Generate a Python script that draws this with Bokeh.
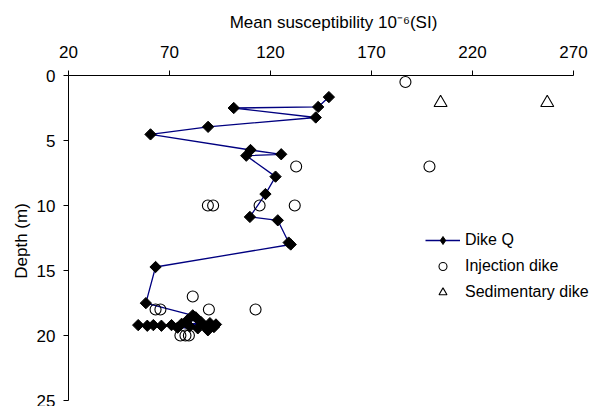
import numpy as np
from bokeh.plotting import figure
from bokeh.models import Range1d, FixedTicker, Legend, LegendItem, ColumnDataSource
from bokeh.embed import file_html
from bokeh.resources import INLINE

# Dike Q (mean susceptibility, depth)
dikeq_x = [148.9, 143.6, 101.8, 142.4, 89.1, 60.6, 110.1, 125.3, 108.0, 122.5,
           117.5, 109.8, 123.6, 129.0, 130.0, 63.1, 58.3,
           81.5, 83.0, 79.0, 85.5, 90.0, 76.0, 93.0, 71.0, 66.0, 62.0, 59.0,
           54.5, 80.0, 88.0, 74.0, 84.0, 92.0, 89.0]
dikeq_y = [1.66, 2.42, 2.50, 3.23, 3.95, 4.53, 5.73, 6.06, 6.17, 7.78,
           9.12, 10.88, 11.14, 12.85, 13.0, 14.73, 17.51,
           18.45, 18.6, 18.8, 18.95, 19.05, 19.1, 19.15, 19.2, 19.25, 19.2, 19.25,
           19.2, 19.3, 19.35, 19.4, 19.45, 19.35, 19.6]

# Injection dike
inj_x = [186.8, 132.7, 198.7, 89.0, 91.6, 114.6, 132.0, 81.5, 63.1, 65.5, 89.5, 112.6, 75.4, 77.9, 79.6]
inj_y = [0.5, 7.0, 7.0, 10.0, 10.0, 10.0, 10.0, 17.0, 18.0, 18.0, 18.0, 18.0, 20.0, 20.0, 20.0]

# Sedimentary dike
sed_x = [204.2, 257.0]
sed_y = [2.1, 2.1]

x_ticks = [20, 70, 120, 170, 220, 270]
y_ticks = [0, 5, 10, 15, 20, 25]

FONT = "Liberation Sans"

# frame: left 68, right 598, top 75, bottom 406 ; 270 at x=573, 25 at y=400
x_end = 20 + 530 / (505 / 250)
y_end = 25 + 6 / (325 / 25)

p = figure(width=598, height=406, output_backend="svg", toolbar_location=None,
           x_range=Range1d(20, x_end), y_range=Range1d(y_end, 0),
           x_axis_location="above", min_border_left=68, min_border_top=75,
           min_border_right=0, min_border_bottom=0)
p.outline_line_color = None
p.xgrid.visible = False
p.ygrid.visible = False
p.background_fill_color = "white"

for ax, ticks, b in ((p.xaxis[0], x_ticks, (20, 270)), (p.yaxis[0], y_ticks, (0, 25))):
    ax.ticker = FixedTicker(ticks=ticks, minor_ticks=[])
    ax.bounds = b
    ax.major_tick_in = 0
    ax.major_tick_out = 5
    ax.minor_tick_out = 0
    ax.minor_tick_in = 0
    ax.axis_line_color = "black"
    ax.major_tick_line_color = "black"
    ax.major_label_text_font = FONT
    ax.major_label_text_font_size = "17px"
    ax.major_label_text_color = "black"
    ax.axis_label_text_font = FONT
    ax.axis_label_text_font_size = "17px"
    ax.axis_label_text_font_style = "normal"
    ax.axis_label_text_color = "black"

p.xaxis[0].axis_label = "Mean susceptibility 10\u207b\u2076(SI)"
p.xaxis[0].major_label_standoff = 13
p.xaxis[0].axis_label_standoff = 11
p.yaxis[0].axis_label = "Depth (m)"
p.yaxis[0].major_label_standoff = 8
p.yaxis[0].axis_label_standoff = 3

src_q = ColumnDataSource(dict(x=dikeq_x, y=dikeq_y))
line_r = p.line("x", "y", source=src_q, line_color="#000080", line_width=1.3)
pts_r = p.scatter("x", "y", source=src_q, marker="square", angle=np.pi / 4, size=8,
                  fill_color="black", line_color="black")
inj_r = p.scatter(inj_x, inj_y, marker="circle", size=11, fill_color=None,
                  line_color="black", line_width=1.1)
sed_r = p.scatter(sed_x, sed_y, marker="triangle", size=13, fill_color=None,
                  line_color="black", line_width=1.1)
# legend-only diamond (NaN data: not drawn in the plot)
leg_d = p.scatter([np.nan], [np.nan], marker="diamond", size=8,
                  fill_color="black", line_color="black")

legend = Legend(items=[
    LegendItem(label="Dike Q", renderers=[line_r, leg_d]),
    LegendItem(label="Injection dike", renderers=[inj_r]),
    LegendItem(label="Sedimentary dike", renderers=[sed_r]),
], location=(357, 104), orientation="vertical")
legend.border_line_color = None
legend.background_fill_alpha = 0
legend.padding = 0
legend.margin = 0
legend.spacing = 6
legend.glyph_height = 20
legend.glyph_width = 35
legend.label_height = 20
legend.label_standoff = 5
legend.label_text_font = FONT
legend.label_text_font_size = "16px"
legend.label_text_color = "black"
p.add_layout(legend, "center")

open("out.html", "w").write(file_html(p, INLINE))
